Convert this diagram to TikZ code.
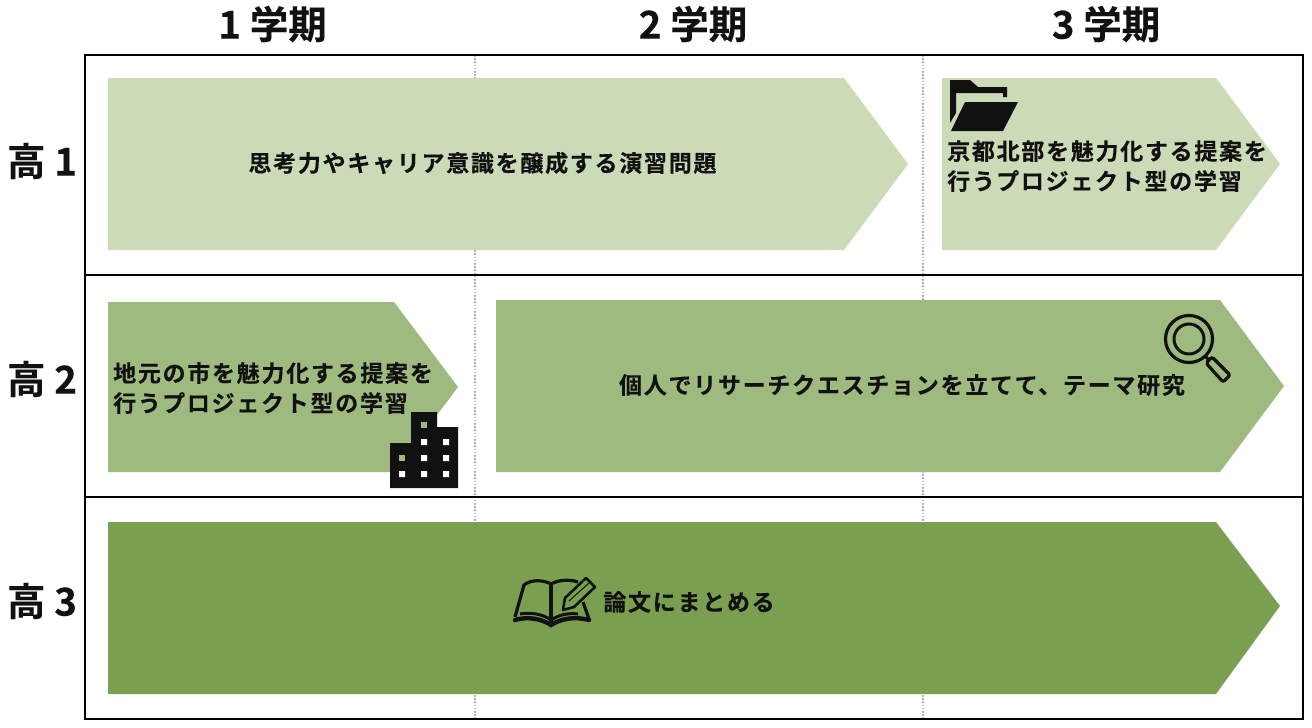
\documentclass[tikz,border=0pt]{standalone}
\usepackage{fontspec}
\setmainfont{Noto Sans CJK JP}[BoldFont={Noto Sans CJK JP Bold}]
\newfontfamily\bodyfont{Noto Sans CJK JP Bold}[LetterSpace=7.5,FakeBold=0.25]
\newfontfamily\headfont{Noto Sans CJK JP Bold}[FakeBold=0.25]
\definecolor{ink}{HTML}{111111}
\definecolor{light}{HTML}{CBDBB8}
\definecolor{mid}{HTML}{9FBA7E}
\definecolor{deep}{HTML}{7A9F50}
\tikzset{
  grid line/.style={line width=1.6pt,draw=black},
  dot line/.style={line width=1.6pt,draw=black!30,dash pattern=on 1.6pt off 1.6pt},
  head/.style={font=\headfont\fontsize{38.5}{38.5}\selectfont,text=ink,inner sep=0pt,anchor=center},
  body/.style={font=\bodyfont\fontsize{23}{30}\selectfont,text=ink,inner sep=0pt,align=left},
  icon/.style={fill=ink,draw=none}
}
\begin{document}
\begin{tikzpicture}[x=1pt,y=-1pt]
\useasboundingbox (0,0) rectangle (1312,728);
\fill[white] (0,0) rectangle (1312,728);
\coordinate (d1a) at (475,55); \coordinate (d1b) at (475,719);
\coordinate (d2a) at (923,55); \coordinate (d2b) at (923,719);
\draw[dot line] (d1a) -- (d1b);
\draw[dot line] (d2a) -- (d2b);
% arrows
\fill[light] (108,78) -- (844,78) -- (908,164) -- (844,250) -- (108,250) -- cycle;
\fill[light] (942,78) -- (1216,78) -- (1280,164) -- (1216,250) -- (942,250) -- cycle;
\fill[mid] (108,302) -- (394,302) -- (458,387) -- (394,472) -- (108,472) -- cycle;
\fill[mid] (496,300) -- (1220,300) -- (1284,386) -- (1220,472) -- (496,472) -- cycle;
\fill[deep] (108,522) -- (1216,522) -- (1280,606) -- (1216,694) -- (108,694) -- cycle;
% grid
\coordinate (r1a) at (85,275); \coordinate (r1b) at (1303,275);
\coordinate (r2a) at (85,497); \coordinate (r2b) at (1303,497);
\draw[grid line] (85,55) rectangle (1303,719);
\draw[grid line] (r1a) -- (r1b);
\draw[grid line] (r2a) -- (r2b);
% headers
\node[head] (h1) at (272.5,24) {1 学期};
\node[head] (h2) at (693,24) {2 学期};
\node[head] (h3) at (1106,24) {3 学期};
\node[head] (k1) at (42,161) {高 1};
\node[head] (k2) at (42,379) {高 2};
\node[head] (k3) at (42,601) {高 3};
% texts
\node[body] (t1) at (482.5,163) {思考力やキャリア意識を醸成する演習問題};
\node[body,anchor=west] (t2) at (947,166) {京都北部を魅力化する提案を\\行うプロジェクト型の学習};
\node[body,anchor=west] (t3) at (113,388) {地元の市を魅力化する提案を\\行うプロジェクト型の学習};
\node[body] (t4) at (902,385) {個人でリサーチクエスチョンを立てて、テーマ研究};
\node[body] (t5) at (689,602) {論文にまとめる};
% folder icon
\fill[icon] (950,80) -- (970,80) -- (978,87) -- (1007,87) -- (1007,97) -- (1003,97) -- (1003,93) -- (956,93) -- (956,113) -- (950,123) -- cycle;
\fill[icon] (965,102) -- (1018,102) -- (1003,131) -- (951,131) -- cycle;
% building icon
\fill[icon] (390,488) -- (390,443) -- (411,443) -- (411,412) -- (437,412) -- (437,427) -- (458,427) -- (458,488) -- cycle;
\fill[mid] (421,422) rectangle (427,428);
\fill[white] (421,439) rectangle (427,445) (443,439) rectangle (449,445)
  (421,455) rectangle (427,461) (443,455) rectangle (449,461)
  (421,471) rectangle (427,477) (443,471) rectangle (449,477) (399,471) rectangle (405,477);
\fill[mid] (399,455) rectangle (405,461);
% magnifier icon
\draw[ink,line width=3.2pt] (1189,339) circle (23.5);
\draw[ink,line width=3pt] (1189,339) circle (15);
\draw[ink,line width=3pt] (1205,356) -- (1209,360);
\draw[ink,line width=3.2pt,line join=round,rounded corners=2pt] (1206,363) -- (1212,357) -- (1230,375) -- (1223,382) -- cycle;
% book icon
\draw[ink,line width=3.2pt,line join=round] (551,622) -- (551,584);
\draw[ink,line width=3.2pt,line join=round] (515,617) -- (524,585) .. controls (531,579) and (544,580) .. (551,584) .. controls (558,580) and (569,579) .. (578,582);
\draw[ink,line width=3.2pt,line join=round] (583,602) -- (589,619);
\draw[ink,line width=3pt] (520,614) .. controls (530,612) and (543,614) .. (551,620) .. controls (560,614) and (570,613) .. (578,614);
\draw[ink,line width=4.4pt,line cap=round] (515,620) .. controls (528,616) and (542,619) .. (551,625) .. controls (560,619) and (574,616) .. (589,620);
\draw[ink,line width=2.6pt,line join=round,fill=deep] (565,598) -- (586,578) -- (595,587) -- (574,607) -- (563,610) -- cycle;
\draw[ink,line width=1pt] (569,601) -- (589,583);
\end{tikzpicture}
\end{document}
